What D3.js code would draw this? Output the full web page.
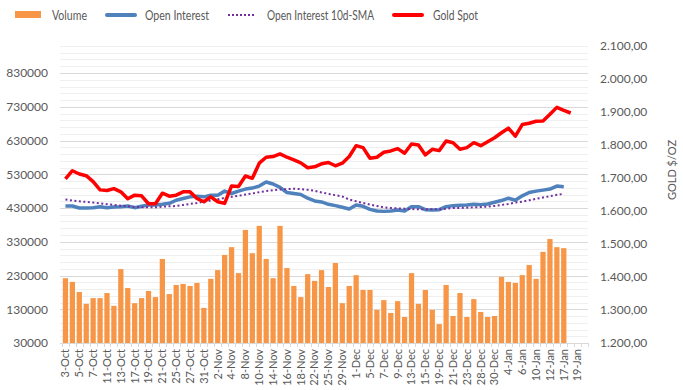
<!DOCTYPE html>
<html>
<head>
<meta charset="utf-8">
<script src="https://cdn.jsdelivr.net/npm/d3@7"></script>
<style>
  body { margin: 0; background: #fff; }
  text { font-family: Lato, "Liberation Sans", sans-serif; fill: #595959; }
</style>
</head>
<body>
<div id="grafico"></div>
<script>
// dates on the category axis (trading days)
var fechas = ["3-Oct","4-Oct","5-Oct","6-Oct","7-Oct","10-Oct","11-Oct","12-Oct","13-Oct","14-Oct",
  "17-Oct","18-Oct","19-Oct","20-Oct","21-Oct","24-Oct","25-Oct","26-Oct","27-Oct","28-Oct",
  "31-Oct","1-Nov","2-Nov","3-Nov","4-Nov","7-Nov","8-Nov","9-Nov","10-Nov","11-Nov",
  "14-Nov","15-Nov","16-Nov","17-Nov","18-Nov","21-Nov","22-Nov","23-Nov","25-Nov","28-Nov",
  "29-Nov","30-Nov","1-Dec","2-Dec","5-Dec","6-Dec","7-Dec","8-Dec","9-Dec","12-Dec",
  "13-Dec","14-Dec","15-Dec","16-Dec","19-Dec","20-Dec","21-Dec","22-Dec","23-Dec","27-Dec",
  "28-Dec","29-Dec","30-Dec","3-Jan","4-Jan","5-Jan","6-Jan","9-Jan","10-Jan","11-Jan",
  "12-Jan","13-Jan","17-Jan","18-Jan","19-Jan","20-Jan"];

var volumen = [222000,211000,181000,146000,163000,163000,178000,140000,249000,193000,
  148000,163000,184000,166000,279000,175000,202000,205000,199000,208000,
  134000,220000,246000,291000,314000,237000,365000,296000,377000,279000,
  222000,377000,252000,199000,166000,234000,214000,246000,196000,267000,
  148000,199000,231000,187000,187000,128000,157000,119000,154000,107000,
  237000,146000,187000,128000,86000,202000,110000,178000,107000,160000,
  122000,107000,110000,226000,211000,208000,231000,261000,220000,300000,
  338000,314000,311000];

var openInterest = [436000,436000,430000,430000,431000,434000,431000,433000,434000,436000,
  431000,435000,439000,439000,441000,444000,453000,458000,463000,465000,
  463000,468000,468000,480000,473000,480000,486000,489000,495000,507000,
  501000,491000,476000,473000,470000,459000,451000,448000,441000,437000,
  432000,427000,439000,435000,426000,421000,420000,421000,424000,421000,
  434000,434000,425000,424000,425000,434000,437000,438000,439000,441000,
  440000,442000,447000,452000,459000,453000,466000,476000,480000,483000,
  486000,495000,493000];

var sma10 = [455000,452000,450000,448000,446000,444000,441000,439000,437000,435000,
  433000,432000,432000,432000,434000,435000,436000,439000,442000,445000,
  449000,452000,456000,460000,463000,466000,470000,473000,477000,480000,
  483000,485000,486000,487000,486000,484000,481000,476000,472000,468000,
  464000,455000,450000,445000,440000,436000,432000,430000,429000,428000,
  427000,426000,426000,426000,426000,428000,430000,430000,431000,432000,
  433000,434000,436000,439000,442000,446000,449000,453000,457000,461000,
  465000,469000,472000];

var oro = [1697,1722,1712,1707,1689,1664,1662,1668,1658,1637,
  1648,1646,1622,1622,1654,1645,1648,1658,1658,1638,
  1628,1643,1628,1623,1676,1674,1706,1699,1745,1763,
  1765,1773,1763,1755,1746,1731,1734,1743,1747,1737,
  1745,1765,1798,1792,1760,1763,1778,1782,1789,1775,
  1803,1800,1770,1787,1783,1812,1807,1787,1792,1807,
  1798,1810,1822,1837,1851,1827,1862,1866,1872,1873,
  1893,1914,1905,1897];

var ticksIzq = [30000,130000,230000,330000,430000,530000,630000,730000,830000];
var ticksDer = [1200,1300,1400,1500,1600,1700,1800,1900,2000,2100];

var svg = d3.select("#grafico").append("svg")
  .attr("width", 683)
  .attr("height", 390);

var izq = 62, der = 588, arriba = 46, abajo = 343;

var x = d3.scaleBand()
  .domain(fechas)
  .range([izq, der])
  .paddingInner(0.24)
  .paddingOuter(0.12);

var yIzq = d3.scaleLinear().domain([30000, 910000]).range([abajo, arriba]);
var yDer = d3.scaleLinear().domain([1200, 2100]).range([abajo, arriba]);

function cx(i) { return x(fechas[i]) + x.bandwidth() / 2; }

// gridlines every 20000, darker at the labelled values
var rejilla = d3.range(30000, 910001, 20000);
svg.append("g").selectAll("line")
  .data(rejilla)
  .enter().append("line")
  .attr("x1", izq - 2).attr("x2", der)
  .attr("y1", function(d) { return Math.round(yIzq(d)) + 0.5; })
  .attr("y2", function(d) { return Math.round(yIzq(d)) + 0.5; })
  .attr("stroke", function(d) { return (d - 30000) % 100000 == 0 ? "#d9d9d9" : "#efefef"; })
  .attr("stroke-width", 1);

// bars
svg.append("g").selectAll("rect")
  .data(volumen)
  .enter().append("rect")
  .attr("x", function(d, i) { return x(fechas[i]); })
  .attr("y", function(d) { return yIzq(d); })
  .attr("width", x.bandwidth())
  .attr("height", function(d) { return yIzq(30000) - yIzq(d); })
  .attr("fill", "#f79646");

// x axis
var ejeX = svg.append("g")
  .attr("transform", "translate(0," + abajo + ")")
  .call(d3.axisBottom(x)
    .tickValues(fechas.filter(function(d, i) { return i % 2 == 0; }))
    .tickSize(0)
    .tickPadding(0));
ejeX.select(".domain").attr("stroke", "#d9d9d9");
ejeX.selectAll("text")
  .attr("transform", "rotate(-90)")
  .attr("x", -6)
  .attr("y", 0)
  .attr("dy", "0.35em")
  .style("text-anchor", "end")
  .style("font-size", "11px");

// small ticks between categories
svg.append("g").selectAll("line")
  .data(d3.range(fechas.length + 1))
  .enter().append("line")
  .attr("x1", function(i) { return Math.round(izq + i * (der - izq) / fechas.length) + 0.5; })
  .attr("x2", function(i) { return Math.round(izq + i * (der - izq) / fechas.length) + 0.5; })
  .attr("y1", abajo).attr("y2", abajo + 4)
  .attr("stroke", "#d9d9d9");

// left axis
var ejeIzq = svg.append("g")
  .attr("transform", "translate(" + (izq - 11) + ",0)")
  .call(d3.axisLeft(yIzq).tickValues(ticksIzq).tickFormat(d3.format("d")).tickSize(0));
ejeIzq.select(".domain").remove();
ejeIzq.selectAll("text").style("font-size", "12px");

// right axis
var fmt = d3.formatLocale({decimal: ",", thousands: ".", grouping: [3], currency: ["", ""]}).format(",.2f");
var ejeDer = svg.append("g")
  .attr("transform", "translate(597,0)")
  .call(d3.axisRight(yDer).tickValues(ticksDer).tickFormat(fmt).tickSize(0));
ejeDer.select(".domain").remove();
ejeDer.selectAll("text").style("font-size", "12px");

svg.append("text")
  .attr("transform", "translate(676,170) rotate(-90)")
  .attr("text-anchor", "middle")
  .style("font-size", "11px")
  .text("GOLD $/OZ");

// lines
var lineaIzq = d3.line()
  .x(function(d, i) { return cx(i); })
  .y(function(d) { return yIzq(d); });
var lineaDer = d3.line()
  .x(function(d, i) { return cx(i); })
  .y(function(d) { return yDer(d); });

svg.append("path").datum(openInterest)
  .attr("d", lineaIzq)
  .attr("fill", "none")
  .attr("stroke", "#4f81bd")
  .attr("stroke-width", 3.5)
  .attr("stroke-linejoin", "round");

svg.append("path").datum(sma10)
  .attr("d", lineaIzq)
  .attr("fill", "none")
  .attr("stroke", "#7030a0")
  .attr("stroke-width", 2)
  .attr("stroke-dasharray", "2,2.5");

svg.append("path").datum(oro)
  .attr("d", lineaDer)
  .attr("fill", "none")
  .attr("stroke", "#ff0000")
  .attr("stroke-width", 3.5)
  .attr("stroke-linejoin", "round");

// legend
var leyenda = [
  {nombre: "Volume", tipo: "bar", color: "#f79646", x: 15, tx: 52, ancho: 35},
  {nombre: "Open Interest", tipo: "line", color: "#4f81bd", x: 107, tx: 145, ancho: 64},
  {nombre: "Open Interest 10d-SMA", tipo: "dot", color: "#7030a0", x: 228, tx: 267, ancho: 107},
  {nombre: "Gold Spot", tipo: "line", color: "#ff0000", x: 394, tx: 433, ancho: 45}
];
var ley = svg.append("g").selectAll("g")
  .data(leyenda)
  .enter().append("g");

ley.filter(function(d) { return d.tipo == "bar"; }).append("rect")
  .attr("x", function(d) { return d.x; })
  .attr("y", 11)
  .attr("width", 26)
  .attr("height", 7)
  .attr("fill", function(d) { return d.color; });

ley.filter(function(d) { return d.tipo != "bar"; }).append("line")
  .attr("x1", function(d) { return d.x; })
  .attr("x2", function(d) { return d.x + 28; })
  .attr("y1", 15).attr("y2", 15)
  .attr("stroke", function(d) { return d.color; })
  .attr("stroke-width", function(d) { return d.tipo == "dot" ? 2 : 4; })
  .attr("stroke-linecap", function(d) { return d.tipo == "dot" ? "butt" : "round"; })
  .attr("stroke-dasharray", function(d) { return d.tipo == "dot" ? "2,2" : null; });

ley.append("text")
  .attr("x", function(d) { return d.tx; })
  .attr("y", 15)
  .attr("dy", "0.35em")
  .attr("textLength", function(d) { return d.ancho; })
  .attr("lengthAdjust", "spacingAndGlyphs")
  .style("font-size", "13px")
  .text(function(d) { return d.nombre; });
</script>
</body>
</html>
